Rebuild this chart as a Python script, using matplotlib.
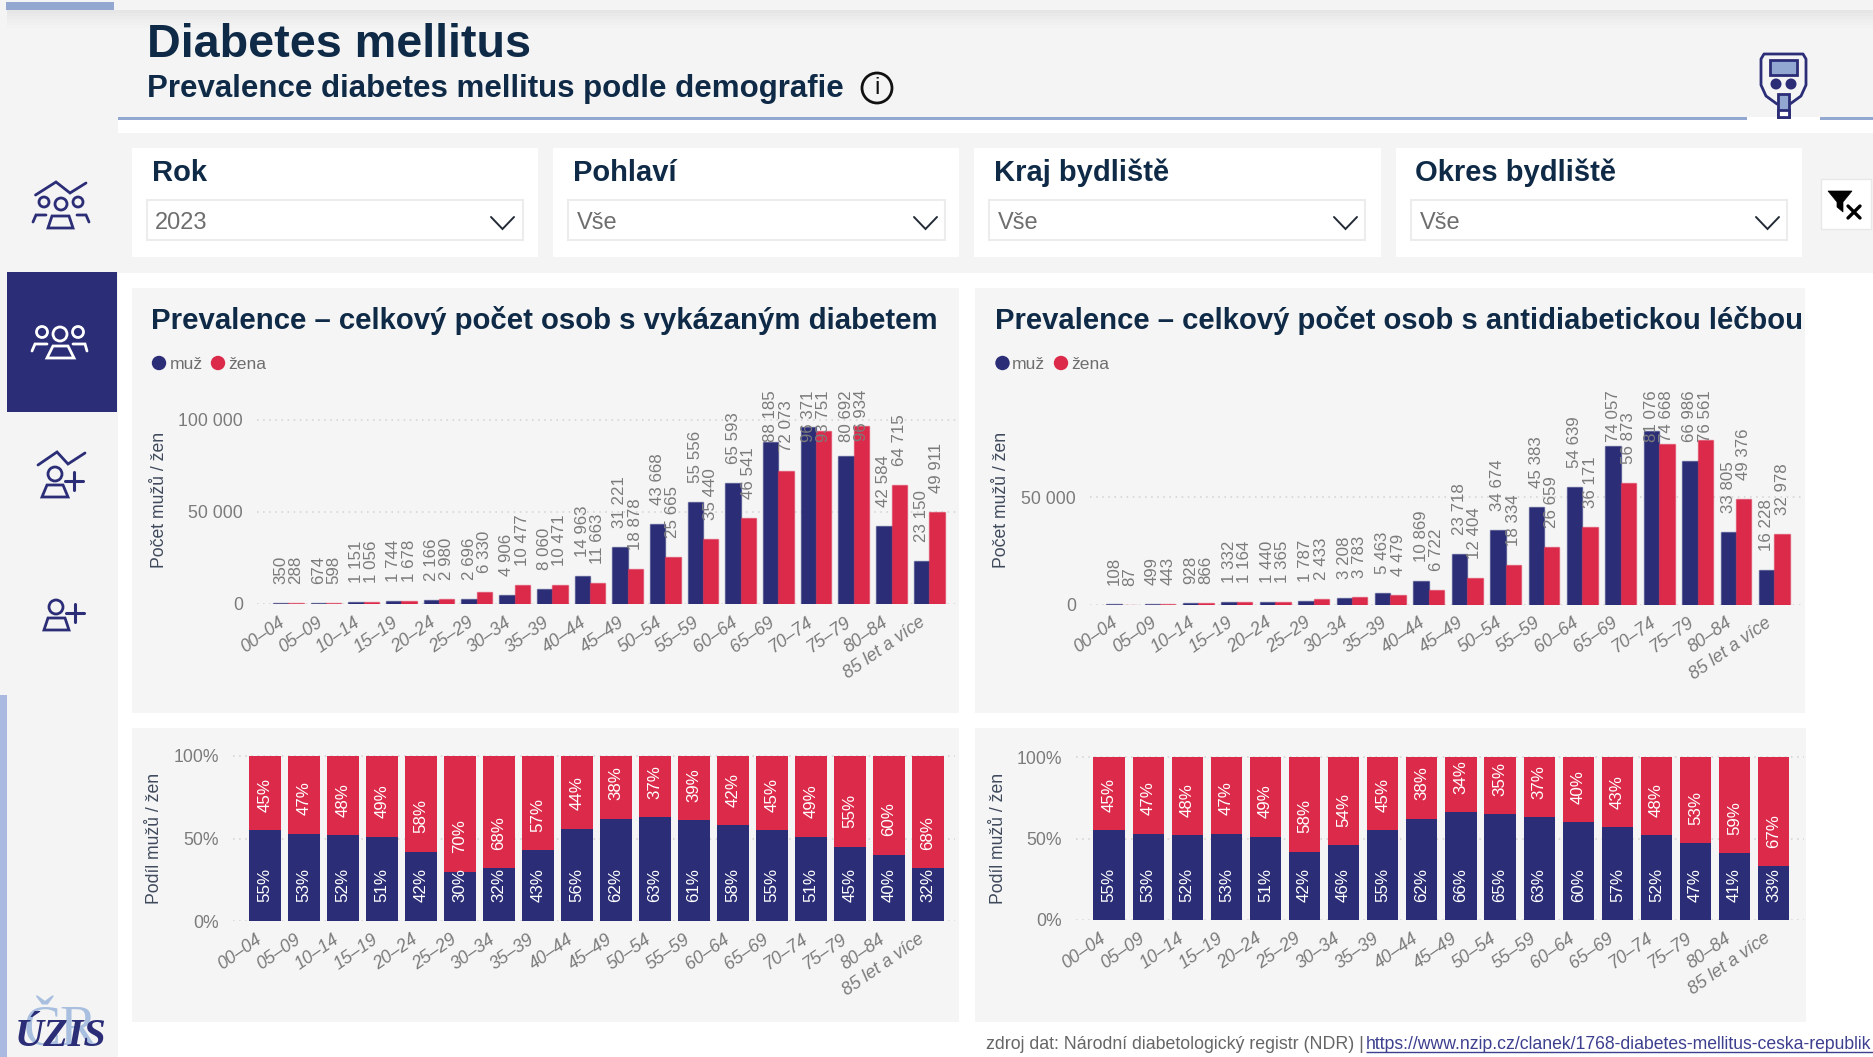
import matplotlib
matplotlib.use("Agg")
import matplotlib.pyplot as plt
from matplotlib.patches import Rectangle, Circle, Polygon

plt.rcParams['font.family'] = ['Liberation Sans', 'DejaVu Sans']

W, H = 1873, 1057
NAVY = '#2b2d77'
RED = '#dc2a4a'
ACCENT = '#93a8d0'
STRIP = '#a9b9e0'
PANEL = '#f5f5f5'
DARK = '#0f2a47'
GREY = '#7b7b7b'
AXT = '#3f4a5c'

age_groups = ['00–04', '05–09', '10–14', '15–19', '20–24', '25–29', '30–34', '35–39', '40–44',
              '45–49', '50–54', '55–59', '60–64', '65–69', '70–74', '75–79', '80–84', '85 let a více']

report_men = [350, 674, 1151, 1744, 2166, 2696, 4906, 8060, 14963, 31221, 43668, 55556, 65593,
              88185, 96371, 80692, 42584, 23150]
report_women = [288, 598, 1056, 1678, 2980, 6330, 10477, 10471, 11663, 18878, 25665, 35440, 46541,
                72073, 93751, 96934, 64715, 49911]
treat_men = [108, 499, 928, 1332, 1440, 1787, 3208, 5463, 10869, 23718, 34674, 45383, 54639,
             74057, 81076, 66986, 33805, 16228]
treat_women = [87, 443, 866, 1164, 1365, 2433, 3783, 4479, 6722, 12404, 18334, 26659, 36171,
               56873, 74668, 76561, 49376, 32978]

report_share_men = [55, 53, 52, 51, 42, 30, 32, 43, 56, 62, 63, 61, 58, 55, 51, 45, 40, 32]
report_share_women = [45, 47, 48, 49, 58, 70, 68, 57, 44, 38, 37, 39, 42, 45, 49, 55, 60, 68]
treat_share_men = [55, 53, 52, 53, 51, 42, 46, 55, 62, 66, 65, 63, 60, 57, 52, 47, 41, 33]
treat_share_women = [45, 47, 48, 47, 49, 58, 54, 45, 38, 34, 35, 37, 40, 43, 48, 53, 59, 67]

count_ticks_left = [0, 50000, 100000]
count_ticks_right = [0, 50000]
share_ticks = [0, 50, 100]

title_main = 'Diabetes mellitus'
title_sub = 'Prevalence diabetes mellitus podle demografie'
title_left = 'Prevalence – celkový počet osob s vykázaným diabetem'
title_right = 'Prevalence – celkový počet osob s antidiabetickou léčbou'
slicers = [('Rok', '2023'), ('Pohlaví', 'Vše'), ('Kraj bydliště', 'Vše'), ('Okres bydliště', 'Vše')]
source_text = 'zdroj dat: Národní diabetologický registr (NDR) |'
source_link = 'https://www.nzip.cz/clanek/1768-diabetes-mellitus-ceska-republik'

fig = plt.figure(figsize=(W / 100, H / 100), dpi=100, facecolor='white')
renderer = fig.canvas.get_renderer()

bg = fig.add_axes([0, 0, 1, 1], zorder=0)
bg.set_xlim(0, W)
bg.set_ylim(H, 0)
bg.axis('off')


def rect(x0, y0, x1, y1, color, ax=bg, **kw):
    ax.add_patch(Rectangle((x0, y0), x1 - x0, y1 - y0, facecolor=color, edgecolor='none', **kw))


def line(pts, color, lw=2.0, cap='round', join='miter'):
    bg.plot([p[0] for p in pts], [p[1] for p in pts], color=color, lw=lw,
            solid_capstyle=cap, solid_joinstyle=join)


def fit(x, y, s, width, start=20, **kw):
    t = bg.text(x, y, s, fontsize=start, va='baseline', ha='left', **kw)
    w = t.get_window_extent(renderer).width
    t.set_fontsize(start * width / w)
    return t


# page blocks
rect(0, 0, W, 10, '#f4f4f4')
rect(6, 2, 114, 10, ACCENT)
rect(0, 10, W, 118, '#f4f4f4')
for i, c in enumerate(['#e6e6e6', '#e9e9e9', '#ececec', '#eeeeee', '#f0f0f0', '#f2f2f2']):
    rect(7, 10 + i * 3, W, 13 + i * 3, c)
rect(0, 10, 7, 118, '#f4f4f4')
rect(118, 120, W, 133, 'white')
rect(118, 133, W, 273, '#f4f4f4')
rect(0, 118, 118, H, '#f4f4f4')
rect(0, 695, 7, H, STRIP)
rect(7, 272, 117, 412, NAVY)
rect(118, 117, 1747, 120, ACCENT)
rect(1820, 117, W, 120, ACCENT)
rect(1747, 117, 1820, 120, 'white')

# slicer cards
cards = [(132, 538, 147, 523, 152, 155, 491), (553, 959, 568, 945, 573, 577, 914),
         (974, 1381, 989, 1365, 994, 998, 1334), (1396, 1802, 1411, 1787, 1415, 1420, 1756)]
for (name, val), (cx0, cx1, dx0, dx1, tx, vx, chev) in zip(slicers, cards):
    rect(cx0, 148, cx1, 257, 'white')
    bg.add_patch(Rectangle((dx0, 200), dx1 - dx0, 40, facecolor='white', edgecolor='#ececec', lw=1.5))
    bg.text(tx, 181, name, fontsize=21, fontweight='bold', color=DARK, va='baseline')
    bg.text(vx, 229, val, fontsize=17, color='#6e6e6e', va='baseline')
    line([(chev, 217), (chev + 11.5, 229), (chev + 23, 217)], '#222a35', lw=1.4)

# filter button
bg.add_patch(Rectangle((1821, 179), 50, 50, facecolor='white', edgecolor='#e8e8e8', lw=1))
bg.add_patch(Polygon([(1828, 191), (1852, 191), (1843, 202), (1843, 212), (1837, 207), (1837, 202)],
                     facecolor='black', edgecolor='black', lw=0.5))
line([(1848, 206), (1860, 218)], 'black', lw=2.4)
line([(1860, 206), (1848, 218)], 'black', lw=2.4)

# header text
fit(147, 57, title_main, 384, fontweight='bold', color=DARK)
fit(147, 97, title_sub, 696, fontweight='bold', color=DARK)
bg.add_patch(Circle((877, 88), 15, facecolor='none', edgecolor='#111111', lw=2))
bg.text(877, 88, 'i', fontsize=17, ha='center', va='center', color='#111111')

# glucometer
gx = [(1761, 59), (1764, 54), (1803, 54), (1806, 59), (1806, 85), (1801, 96), (1790, 104),
      (1777, 104), (1766, 96), (1761, 85)]
bg.add_patch(Polygon(gx, facecolor='none', edgecolor=NAVY, lw=2, joinstyle='round'))
bg.add_patch(Rectangle((1770, 60), 27, 15, facecolor=ACCENT, edgecolor=NAVY, lw=2))
bg.add_patch(Circle((1776, 84), 5.5, facecolor=NAVY, edgecolor='none'))
bg.add_patch(Circle((1791, 84), 5.5, facecolor=NAVY, edgecolor='none'))
bg.add_patch(Rectangle((1778, 94), 11, 23, facecolor=ACCENT, edgecolor=NAVY, lw=2, zorder=3))
bg.add_patch(Rectangle((1778, 110), 11, 7, facecolor='white', edgecolor=NAVY, lw=2, zorder=3))


# sidebar icons
def person(cx, cy, r, trap, color):
    bg.add_patch(Circle((cx, cy), r, facecolor='none', edgecolor=color, lw=2))
    bg.add_patch(Polygon(trap, facecolor='none', edgecolor=color, lw=2))


def plus(cx, cy, h):
    line([(cx - h, cy), (cx + h, cy)], NAVY, lw=2.2)
    line([(cx, cy - h), (cx, cy + h)], NAVY, lw=2.2)


line([(35.5, 195), (56, 182), (70, 193), (86, 183)], NAVY)
bg.add_patch(Circle((44, 202), 5, facecolor='none', edgecolor=NAVY, lw=2))
bg.add_patch(Circle((78, 202), 5, facecolor='none', edgecolor=NAVY, lw=2))
person(61, 204, 6, [(48, 228), (73, 228), (69, 216), (52, 216)], NAVY)
line([(33, 222), (36, 215), (46, 215)], NAVY)
line([(89, 222), (86, 215), (77, 215)], NAVY)

bg.add_patch(Circle((42, 332), 5.5, facecolor='none', edgecolor='white', lw=2))
bg.add_patch(Circle((78, 332), 5.5, facecolor='none', edgecolor='white', lw=2))
person(60, 334, 7, [(47, 358), (74, 358), (68, 346), (53, 346)], 'white')
line([(32, 351), (35, 344), (47, 344)], 'white')
line([(87, 351), (85, 344), (73, 344)], 'white')

line([(38, 465), (57, 452), (68, 464), (85, 453)], NAVY)
person(55, 474, 7, [(42, 497), (68, 497), (63, 485), (47, 485)], NAVY)
plus(74, 481, 9)
person(56, 607, 7, [(44, 630), (69, 630), (65, 618), (48, 618)], NAVY)
plus(75, 613, 9)

# logo
bg.text(24, 1045, 'ČR', fontsize=40, family='Liberation Serif', color='#a9bfdf', va='baseline')
bg.text(15, 1046, 'ÚZIS', fontsize=29, family='Liberation Serif', fontweight='bold', style='italic',
        color=NAVY, va='baseline')

# panels
for x0, x1, y0, y1 in [(132, 959, 288, 713), (975, 1805, 288, 713), (132, 959, 728, 1022), (975, 1806, 728, 1022)]:
    rect(x0, y0, x1, y1, PANEL)

# panel titles & legends
fit(151, 329, title_left, 785, fontweight='bold', color=DARK)
fit(995, 329, title_right, 808, fontweight='bold', color=DARK)
for d1, t1, d2, t2 in [(159, 170, 218, 228), (1002.5, 1012, 1061, 1071)]:
    bg.add_patch(Circle((d1, 363), 7.2, facecolor=NAVY, edgecolor='none'))
    bg.text(t1, 363, 'muž', fontsize=12.6, color='#6e6e6e', va='center_baseline')
    bg.add_patch(Circle((d2, 363), 7.2, facecolor=RED, edgecolor='none'))
    bg.text(t2, 363, 'žena', fontsize=12.6, color='#6e6e6e', va='center_baseline')

# footer
fit(986, 1049, source_text, 376, color='#666666')
fit(1366, 1049, source_link, 507, color='#3d3f8f')
line([(1366, 1052), (W, 1052)], '#3d3f8f', lw=1.0, cap='butt')


def base_axes(L, R, T, B, c0, step, unit_px, y_ticks, y_labels, pad_px):
    ax = fig.add_axes([L / W, 1 - B / H, (R - L) / W, (B - T) / H], zorder=2)
    ax.patch.set_alpha(0)
    ax.set_xlim((L - c0) / step, (R - c0) / step)
    ax.set_ylim(0, (B - T) / unit_px)
    for s in ax.spines.values():
        s.set_visible(False)
    ax.set_yticks(y_ticks, y_labels, fontsize=12.7, color=GREY)
    ax.grid(axis='y', color='#d2d2d2', ls=(0, (1, 3)), lw=1.1, zorder=0)
    ax.set_axisbelow(True)
    ax.tick_params(axis='y', length=0, pad=pad_px * 0.72)
    ax.set_xticks([i - 10 / step for i in range(len(age_groups))])
    ax.set_xticklabels(age_groups, rotation=35, ha='right', va='top', rotation_mode='anchor',
                       style='italic', fontsize=12.8, color=GREY)
    ax.tick_params(axis='x', length=0, pad=7)
    return ax


def place_label(ax, x, y, s, off_px, color, limit_px=None):
    t = ax.annotate(s, xy=(x, y), xytext=(0, off_px * 0.72), textcoords='offset points', rotation=90,
                    ha='center', va='bottom', fontsize=12.2, color=color, zorder=5, annotation_clip=False)
    if limit_px is not None:
        bb = t.get_window_extent(renderer)
        top = H - bb.y1
        if top < limit_px:
            t.xyann = (0, (off_px - (limit_px - top)) * 0.72)
    return t


def thousands(v):
    return f'{v:,}'.replace(',', ' ')


def counts_chart(men, women, L, R, y0, unit_px, c0, step, ticks, pad, ylab_x, ylab_y):
    T = 376
    ax = base_axes(L, R, T, y0, c0, step, unit_px, ticks, [thousands(v) for v in ticks], pad)
    w = 15.35 / step
    for i, (m, f) in enumerate(zip(men, women)):
        ax.bar(i - w / 2, m, w, color=NAVY, edgecolor=(0.17, 0.18, 0.47, 0.5), lw=1.0, zorder=2)
        ax.bar(i + w / 2, f, w, color=RED, edgecolor=(0.86, 0.16, 0.29, 0.5), lw=1.0, zorder=2)
        place_label(ax, i - w / 2, m, thousands(m), 19, GREY, 390)
        place_label(ax, i + w / 2, f, thousands(f), 19, GREY, 390)
    bg.text(ylab_x, ylab_y, 'Počet mužů / žen', rotation=90, ha='center', va='center', fontsize=12.7, color=AXT)
    return ax


def share_chart(men, women, L, R, T100, B, c0, step, pad, ylab_x):
    unit = (B - T100) / 100
    top = T100 - 6
    ax = base_axes(L, R, top, B, c0, step, unit, share_ticks, [f'{v}%' for v in share_ticks], pad)
    w = 31.2 / step
    for i, (m, f) in enumerate(zip(men, women)):
        ax.bar(i, m, w, color=NAVY, zorder=2)
        ax.bar(i, f, w, bottom=m, color=RED, zorder=2)
        place_label(ax, i, 0, f'{m}%', 18.5, 'white')
        place_label(ax, i, m, f'{f}%', 18.5, 'white')
    bg.text(ylab_x, (T100 + B) / 2, 'Podíl mužů / žen', rotation=90, ha='center', va='center', fontsize=12.7, color=AXT)
    return ax


counts_chart(report_men, report_women, 257, 956, 604, 184 / 100000, 288.3, 37.7, count_ticks_left, 14, 160, 500)
counts_chart(treat_men, treat_women, 1090, 1801, 604.7, 107.3 / 50000, 1121.6, 38.4, count_ticks_right, 14, 1002, 500)
share_chart(report_share_men, report_share_women, 233, 955, 756, 921, 265, 39.0, 14, 155)
share_chart(treat_share_men, treat_share_women, 1076, 1804, 757, 920, 1109, 39.1, 14, 999)

fig.savefig('out.png', dpi=100, facecolor='white')
